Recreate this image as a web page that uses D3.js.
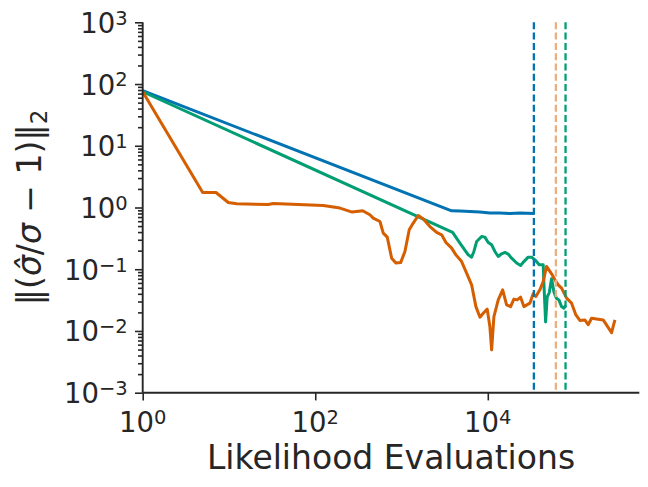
<!DOCTYPE html>
<html>
<head>
<meta charset="utf-8">
<script src="https://cdn.jsdelivr.net/npm/d3@7"></script>
<style>
  html, body { margin: 0; padding: 0; background: #ffffff; }
  svg { display: block; }
  text { font-family: "DejaVu Sans", sans-serif; fill: #262626; }
</style>
</head>
<body>
<svg id="chart" width="648" height="487"></svg>
<script>
// ---------------- data ----------------
const xLabel = "Likelihood Evaluations";
const xTickExponents = [0, 2, 4];
const yTickExponents = [-3, -2, -1, 0, 1, 2, 3];

const blueEvals = [1, 3810, 4750, 6200, 8090, 10570, 13810, 18030, 23550, 34200];
const blueError = [78, 0.884, 0.875, 0.861, 0.842, 0.811, 0.811, 0.799, 0.811, 0.799];

const greenEvals = [1, 3910, 4750, 5930, 6490, 6900, 7420, 8480, 9250, 10110, 11070, 12080,
  13210, 14460, 15790, 17230, 18870, 21570, 23990, 26200, 29380, 32190, 35160, 39440,
  43870, 44670, 46750, 48790, 51490, 54850, 58330, 62330, 66650, 71650, 76200, 79760];
const greenError = [75, 0.396, 0.265, 0.171, 0.157, 0.194, 0.281, 0.339, 0.331, 0.271, 0.249, 0.194,
  0.161, 0.178, 0.187, 0.176, 0.151, 0.126, 0.115, 0.133, 0.157, 0.157, 0.142, 0.118,
  0.118, 0.0595, 0.0140, 0.0357, 0.0415, 0.0699, 0.0430, 0.0340, 0.0319, 0.0248, 0.0234, 0.0260];

const orangeEvals = [1, 4.96, 7.07, 9.82, 12.28, 28.5, 32.6, 123.8, 193.3, 268.5, 354, 430, 470,
  562, 614, 683, 768, 861, 977, 1095, 1228, 1367, 1563, 1786, 2134, 2552, 2917, 3272, 3810,
  4270, 4970, 5680, 6490, 7280, 8110, 8850, 9840, 10570, 11070, 11770, 13210, 14860, 16520,
  18370, 20060, 21920, 23990, 26200, 30740, 33560, 36060, 40140, 43870, 47990, 54850, 59980,
  65460, 71650, 81850, 93540, 104900, 116700, 133400, 145600, 159400, 190300, 217400, 272000, 297300];
const orangeError = [75, 1.75, 1.75, 1.205, 1.148, 1.118, 1.161, 1.077, 0.978, 0.842, 0.884, 0.762, 0.673,
  0.593, 0.385, 0.331, 0.151, 0.126, 0.128, 0.194, 0.435, 0.559, 0.742, 0.649, 0.492, 0.394, 0.361, 0.271, 0.220,
  0.171, 0.133, 0.0865, 0.0559, 0.0248, 0.0167, 0.0194, 0.0226, 0.0118, 0.00494, 0.0171, 0.0319, 0.0464, 0.0265,
  0.0248, 0.0328, 0.0319, 0.0353, 0.0248, 0.0282, 0.0399, 0.0361, 0.0464, 0.0632, 0.111, 0.0842, 0.0673,
  0.0559, 0.0494, 0.0340, 0.0282, 0.0182, 0.0148, 0.0151, 0.0126, 0.0161, 0.0155, 0.0151, 0.0094, 0.0151];

const vlineEvals = [34200, 61500, 79600];

// ---------------- layout ----------------
const svg = d3.select("#chart");
const plotLeft = 142.7, plotRight = 639.3, plotTop = 22.3, plotBottom = 392.7;
const x = d3.scaleLog().domain([1, 5.7e5]).range([plotLeft, plotRight]);
const y = d3.scaleLog().domain([1e-3, 1e3]).range([plotBottom, plotTop]);

const ink = "#262626";
const colBlue = "#0173b2", colGreen = "#029e73", colVerm = "#d55e00";

const vColors = [colBlue, "#eaae7f", colGreen];
const line = d3.line().x(d => x(d[0])).y(d => y(d[1]));

function drawSeries(ev, er, color) {
  svg.append("path")
    .datum(ev.map((v, i) => [v, er[i]]))
    .attr("d", line)
    .attr("fill", "none")
    .attr("stroke", color)
    .attr("stroke-width", 3)
    .attr("stroke-linejoin", "round")
    .attr("stroke-linecap", "butt");
}
drawSeries(blueEvals, blueError, colBlue);
drawSeries(greenEvals, greenError, colGreen);
drawSeries(orangeEvals, orangeError, colVerm);

svg.selectAll("line.vline").data(vlineEvals).enter().append("line")
  .attr("class", "vline")
  .attr("x1", d => x(d)).attr("x2", d => x(d))
  .attr("y1", plotTop).attr("y2", plotBottom)
  .attr("stroke", (d, i) => vColors[i])
  .attr("stroke-width", 2.3)
  .attr("stroke-dasharray", "7,3.3");

// ---------------- axes ----------------
const superscript = (sel, e) => {
  sel.text(null);
  sel.append("tspan").text("10");
  sel.append("tspan").attr("dy", "-0.42em").attr("font-size", "19.5px")
    .text(String(e).replace("-", "\u2212"));
};

const yMajor = yTickExponents.map(e => Math.pow(10, e));
const yMinor = [];
for (let e = -3; e < 3; e++) for (let k = 2; k <= 9; k++) yMinor.push(k * Math.pow(10, e));

const gy = svg.append("g").attr("transform", `translate(${plotLeft},0)`)
  .call(d3.axisLeft(y).tickValues(yMajor).tickSize(7.7).tickFormat(""));
const gyMinor = svg.append("g").attr("transform", `translate(${plotLeft},0)`)
  .call(d3.axisLeft(y).tickValues(yMinor).tickSize(4.7).tickFormat(""));
gyMinor.select(".domain").remove();
[gy, gyMinor].forEach(g => {
  g.selectAll("line").attr("stroke", ink).attr("stroke-width", 1.6);
  g.selectAll(".domain").attr("stroke", ink).attr("stroke-width", 1.9);
});
gy.select(".domain").attr("d", `M0,${plotBottom}V${plotTop}`);

svg.append("g").selectAll("text").data(yTickExponents).enter().append("text")
  .attr("x", plotLeft - 15).attr("y", d => y(Math.pow(10, d)) + 10.5)
  .attr("text-anchor", "end").attr("font-size", "27.5px")
  .each(function(d) { superscript(d3.select(this), d); });

const gx = svg.append("g").attr("transform", `translate(0,${plotBottom})`)
  .call(d3.axisBottom(x).tickValues(xTickExponents.map(e => Math.pow(10, e))).tickSize(7.7).tickFormat(""));
gx.selectAll("line").attr("stroke", ink).attr("stroke-width", 1.6);
gx.select(".domain").attr("stroke", ink).attr("stroke-width", 1.9).attr("d", `M${plotLeft},0H${plotRight}`);

svg.append("g").selectAll("text").data(xTickExponents).enter().append("text")
  .attr("x", d => x(Math.pow(10, d))).attr("y", plotBottom + 39)
  .attr("text-anchor", "middle").attr("font-size", "27.5px")
  .each(function(d) { superscript(d3.select(this), d); });

svg.append("text")
  .attr("x", (plotLeft + plotRight) / 2).attr("y", 469.3)
  .attr("text-anchor", "middle").attr("font-size", "33px")
  .text(xLabel);

const yl = svg.append("text")
  .attr("transform", `translate(41,${(plotTop + plotBottom) / 2}) rotate(-90)`)
  .attr("text-anchor", "middle").attr("font-size", "33px");
yl.append("tspan").text("\u2016(");
yl.append("tspan").attr("font-style", "italic").text("\u03C3\u0302");
yl.append("tspan").text("/");
yl.append("tspan").attr("font-style", "italic").text("\u03C3");
yl.append("tspan").text(" \u2212 1)\u2016");
yl.append("tspan").attr("font-size", "23px").attr("dy", "0.25em").text("2");
</script>
</body>
</html>
